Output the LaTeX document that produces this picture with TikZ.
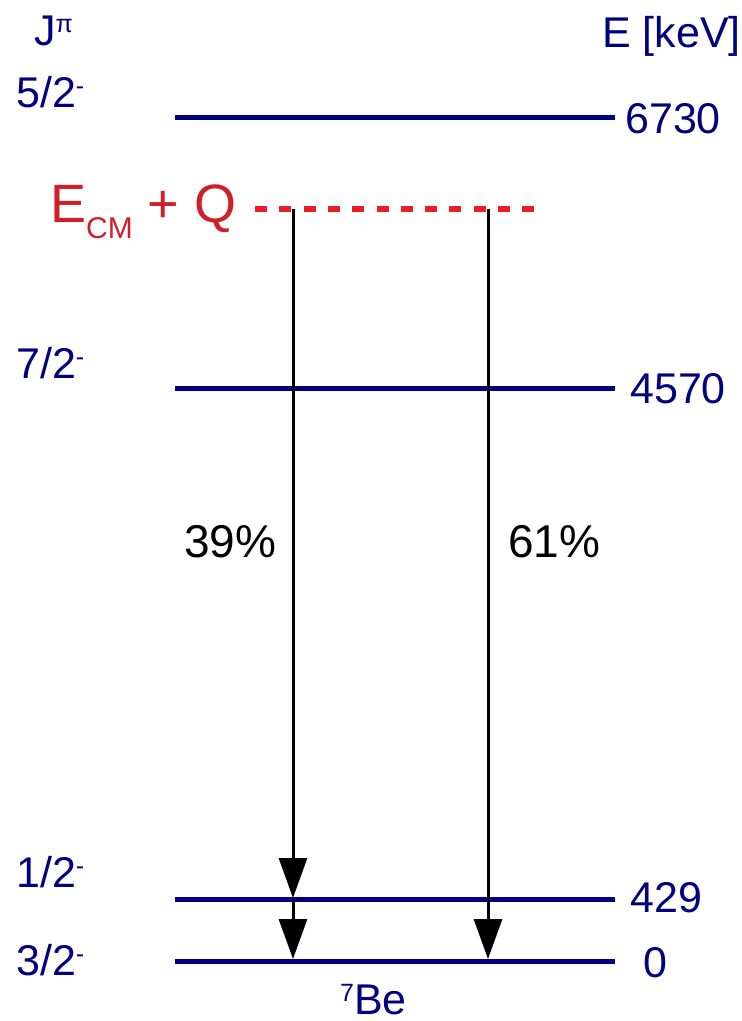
\documentclass[tikz,border=0pt]{standalone}
\usepackage{fontspec}
\setmainfont{Liberation Sans}
\usetikzlibrary{arrows.meta}
\definecolor{lvl}{RGB}{0,0,128}
\definecolor{ecm}{RGB}{237,28,36}
\definecolor{ecmtext}{RGB}{210,30,40}
\newcommand{\jsup}[1]{\raisebox{13pt}{\fontsize{25}{27}\selectfont #1}}
\tikzset{
  level/.style={draw=lvl, line width=5pt},
  lbl/.style={text=lvl, font=\fontsize{43}{50}\selectfont, anchor=base west, inner sep=0pt},
  pct/.style={text=black, font=\fontsize{46}{52}\selectfont, anchor=base west, inner sep=0pt},
  decay/.style={draw=black, line width=3pt, -{Triangle[length=40pt, width=28pt]}, shorten >=1pt},
}
\begin{document}
\begin{tikzpicture}[x=1pt, y=-1pt]
\useasboundingbox (0,0) rectangle (742,1021);
% level lines
\coordinate (a1) at (175,117); \coordinate (a2) at (615,117);
\coordinate (b1) at (175,388); \coordinate (b2) at (615,388);
\coordinate (c1) at (175,899); \coordinate (c2) at (615,899);
\coordinate (d1) at (175,961); \coordinate (d2) at (615,961);
\draw[level] (a1) -- (a2);
\draw[level] (b1) -- (b2);
\draw[level] (c1) -- (c2);
\draw[level] (d1) -- (d2);
% arrows
\coordinate (s1) at (293,209); \coordinate (t1) at (293,899); \coordinate (t2) at (293,960);
\coordinate (s2) at (488,209); \coordinate (t3) at (488,960);
\draw[decay] (s1) -- (t1);
\draw[decay] (t1) -- (t2);
\draw[decay] (s2) -- (t3);
% dashed entrance line
\coordinate (e1) at (255,209); \coordinate (e2) at (534,209);
\draw[draw=ecm, line width=6pt, dash pattern=on 12pt off 12.3pt] (e1) -- (e2);
% labels
\node[lbl] (jpi) at (34,45) {J\jsup{π}};
\node[lbl] (ekev) at (602,47) {E [keV]};
\node[lbl] (j1) at (16,107) {5/2\jsup{-}};
\node[lbl] (j2) at (16,378) {7/2\jsup{-}};
\node[lbl] (j3) at (16,887) {1/2\jsup{-}};
\node[lbl] (j4) at (16,975) {3/2\jsup{-}};
\node[lbl] (e6730) at (625,133) {6730};
\node[lbl] (e4570) at (630,403) {4570};
\node[lbl] (e429) at (630,912) {429};
\node[lbl] (e0) at (643,977) {0};
\node[lbl] (be) at (340,1014) {\jsup{7}Be};
\node[text=ecmtext, font=\fontsize{54}{60}\selectfont, anchor=base west, inner sep=0pt] (ecmq) at (50,222)
  {E\raisebox{-16pt}{\fontsize{30}{32}\selectfont CM} + Q};
\node[pct] (p39) at (184,557) {39\%};
\node[pct] (p61) at (508,557) {61\%};
\end{tikzpicture}
\end{document}
